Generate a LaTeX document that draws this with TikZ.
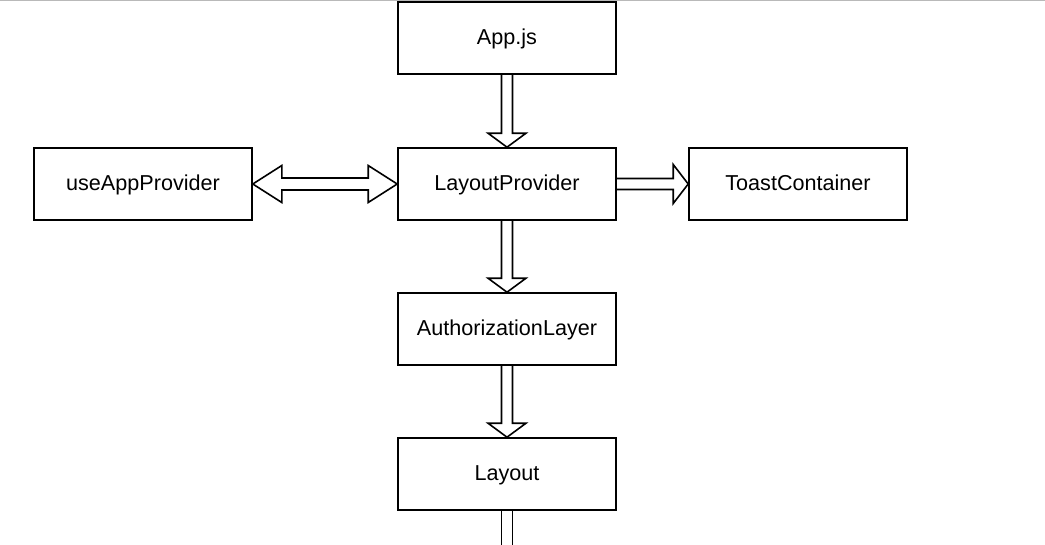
\documentclass[tikz,border=0pt]{standalone}
\usepackage{fontspec}
\setmainfont{Liberation Sans}
\usetikzlibrary{calc}

\tikzset{
	box/.style={shape=rectangle,draw=black,line width=1.6pt,minimum width=218pt,minimum height=72pt,inner sep=0pt,text height=16pt,text depth=4pt,font=\fontsize{21.6}{26}\selectfont},
	hollow/.style={draw=black,line width=1.6pt,line join=miter}
}

% hollow block arrows between two named nodes
\newcommand{\hollowdown}[2]{%
	\draw[hollow] let \p1=(#1.south), \p2=(#2.north) in
	(\x1-5.5pt,\y1) -- (\x1-5.5pt,\y2+14pt) -- (\x1-19pt,\y2+14pt) -- (\x1,\y2)
	-- (\x1+19pt,\y2+14pt) -- (\x1+5.5pt,\y2+14pt) -- (\x1+5.5pt,\y1);}
\newcommand{\hollowright}[2]{%
	\draw[hollow] let \p1=(#1.east), \p2=(#2.west) in
	(\x1,\y1+5.5pt) -- (\x2-15pt,\y1+5.5pt) -- (\x2-15pt,\y1+19.5pt) -- (\x2,\y1)
	-- (\x2-15pt,\y1-19.5pt) -- (\x2-15pt,\y1-5.5pt) -- (\x1,\y1-5.5pt);}
\newcommand{\hollowboth}[2]{%
	\draw[hollow] let \p1=(#1.east), \p2=(#2.west) in
	(\x1,\y1) -- (\x1+29pt,\y1+18.5pt) -- (\x1+29pt,\y1+6pt) -- (\x2-29pt,\y1+6pt)
	-- (\x2-29pt,\y1+18.5pt) -- (\x2,\y1) -- (\x2-29pt,\y1-18.5pt) -- (\x2-29pt,\y1-6pt)
	-- (\x1+29pt,\y1-6pt) -- (\x1+29pt,\y1-18.5pt) -- cycle;}

\begin{document}
\begin{tikzpicture}[x=1pt,y=-1pt]
	
	\useasboundingbox (0,0) rectangle (1045,544);
	\draw[gray!55,line width=1.2pt] (0,0.6) -- (1045,0.6);
	
	\node[box] (appjs)      at (507, 38)  {App.js};
	\node[box] (layoutprov) at (507, 184) {LayoutProvider};
	\node[box] (useapp)     at (143, 184) {useAppProvider};
	\node[box] (toast)      at (798, 184) {ToastContainer};
	\node[box] (authlayer)  at (507, 329) {AuthorizationLayer};
	\node[box] (layout)     at (507, 474) {Layout};
	\coordinate (bottomend) at (507, 546);
	
	\hollowdown{appjs}{layoutprov}
	\hollowdown{layoutprov}{authlayer}
	\hollowdown{authlayer}{layout}
	\hollowright{layoutprov}{toast}
	\hollowboth{useapp}{layoutprov}
	
	\draw[hollow] let \p1=(layout.south), \p2=(bottomend) in
	(\x1-5.5pt,\y1) -- (\x1-5.5pt,\y2) (\x1+5.5pt,\y1) -- (\x1+5.5pt,\y2);
	
\end{tikzpicture}
\end{document}
